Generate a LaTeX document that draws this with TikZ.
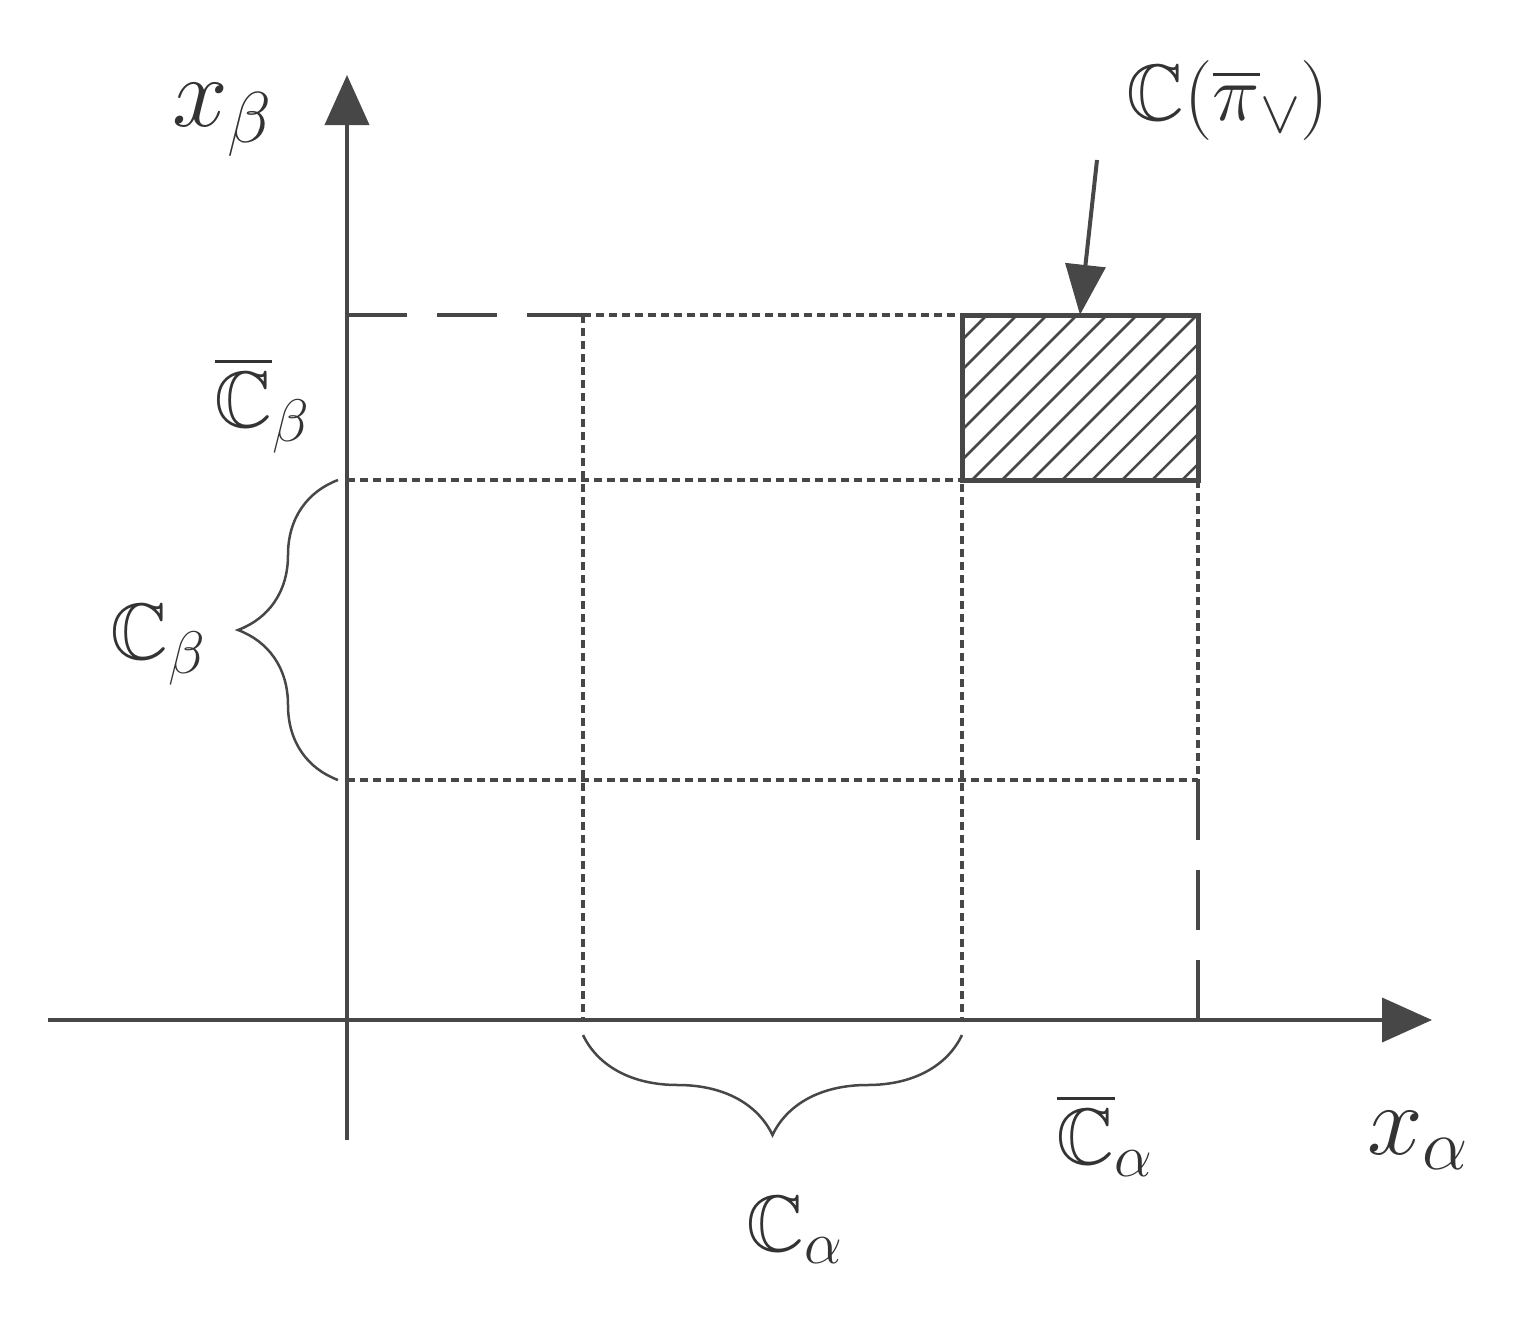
\documentclass[tikz,border=0pt]{standalone}
\usepackage{fix-cm}
\usepackage{amssymb}
\DeclareMathSizes{80}{80}{60}{45}
\DeclareMathSizes{100}{100}{72}{50}
\usetikzlibrary{arrows.meta,decorations.pathreplacing}
\begin{document}
\begin{tikzpicture}[x=1pt,y=-1pt,
  ink/.style={draw=black!72},
  ax/.style={ink,line width=4pt,-{Triangle[length=50pt,width=44pt]}},
  dot/.style={ink,line width=3.5pt,dash pattern=on 8pt off 5pt},
  ldash/.style={ink,line width=3.5pt,dash pattern=on 60pt off 30pt},
  lbl/.style={text=black!80,font=\fontsize{80}{90}\selectfont,inner sep=0pt},
  bigl/.style={text=black!80,font=\fontsize{100}{110}\selectfont,inner sep=0pt}]
\useasboundingbox (0,0) rectangle (1519,1323);
\coordinate (o) at (347,1020);
\coordinate (yb) at (347,1140);
\coordinate (yt) at (347,75);
\coordinate (xl) at (48,1020);
\coordinate (xr) at (1432,1020);
\draw[ax] (yb) -- (yt);
\draw[ax] (xl) -- (xr);
% grid
\draw[ldash] (347,315) -- (583,315);
\draw[dot] (583,315) -- (962,315);
\draw[dot] (347,480) -- (962,480);
\draw[dot] (347,780) -- (1198,780);
\draw[dot] (583,315) -- (583,1020);
\draw[dot] (962,315) -- (962,1020);
\draw[dot] (1198,480) -- (1198,780);
\draw[ldash] (1198,780) -- (1198,1020);
% hatched cell
\node[draw=none,inner sep=0pt,minimum width=236pt,minimum height=165pt] (cell) at (1080,397.5) {};
\begin{scope}
\clip (962,315) rectangle (1198,480);
\foreach \i in {-200,-170,...,260} \draw[black!72,line width=2.5pt] (962+\i,480) -- (962+\i+165,315);
\end{scope}
\draw[ink,line width=5pt] (962,315) rectangle (1198,480);
% labels
\node[bigl] (xb) at (222,120) {$x_\beta$};
\node[lbl] (cbb) at (262,405) {$\overline{\mathbb{C}}_\beta$};
\node[lbl] (cb) at (158,645) {$\mathbb{C}_\beta$};
\node[lbl] (cp) at (1228,100) {$\mathbb{C}(\overline{\pi}_{\vee})$};
\node[lbl] (cab) at (1105,1135) {$\overline{\mathbb{C}}_\alpha$};
\node[bigl] (xa) at (1418,1140) {$x_\alpha$};
\node[lbl] (ca) at (795,1230) {$\mathbb{C}_\alpha$};
\coordinate (as) at (1097,160);
\draw[ink,line width=4pt,-{Triangle[length=50pt,width=40pt]}] (as) -- (cell.north);
% braces
\draw[ink,line width=2.5pt,decorate,decoration={brace,amplitude=100pt}] (338,780) -- (338,480);
\draw[ink,line width=2.5pt,decorate,decoration={brace,amplitude=100pt}] (962,1035) -- (583,1035);
\end{tikzpicture}
\end{document}
